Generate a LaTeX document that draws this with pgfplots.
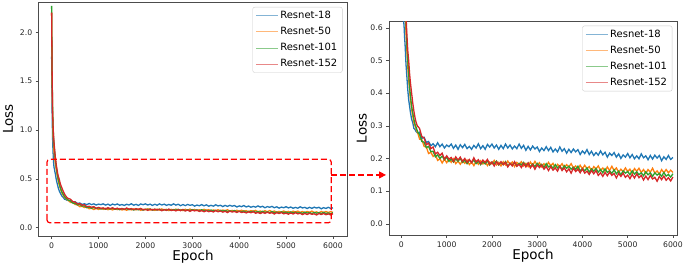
\documentclass[border=0pt]{standalone}
\usepackage{pgfplots}
\pgfplotsset{compat=1.18}
\usepackage{pgfplotstable}
\usepackage{fontspec}
\setmainfont{DejaVu Sans}
\usetikzlibrary{arrows.meta}
\definecolor{c18}{HTML}{1F77B4}
\definecolor{c50}{HTML}{FF7F0E}
\definecolor{c101}{HTML}{2CA02C}
\definecolor{c152}{HTML}{D62728}
\pgfplotstableread{
x b o g r
0 1.750 2.200 2.270 2.200
10 1.200 1.500 1.600 1.600
20 0.920 1.150 1.250 1.200
30 0.780 0.950 1.050 1.050
40 0.680 0.850 0.930 0.950
50 0.620 0.780 0.860 0.880
60 0.600 0.730 0.800 0.820
70 0.570 0.690 0.750 0.770
80 0.550 0.650 0.700 0.720
100 0.490 0.590 0.620 0.640
120 0.450 0.530 0.550 0.580
140 0.410 0.480 0.500 0.530
160 0.380 0.440 0.460 0.500
180 0.360 0.410 0.420 0.460
200 0.340 0.380 0.390 0.430
225 0.320 0.350 0.360 0.400
250 0.310 0.330 0.340 0.370
275 0.292 0.310 0.320 0.345
300 0.289 0.300 0.305 0.325
325 0.282 0.290 0.295 0.310
350 0.279 0.280 0.285 0.300
375 0.277 0.272 0.277 0.296
400 0.280 0.259 0.274 0.292
450 0.261 0.258 0.252 0.267
500 0.265 0.237 0.250 0.263
550 0.249 0.235 0.233 0.242
600 0.252 0.215 0.237 0.247
650 0.239 0.219 0.221 0.230
700 0.245 0.206 0.222 0.235
750 0.236 0.212 0.205 0.214
800 0.248 0.194 0.211 0.219
850 0.236 0.199 0.200 0.209
900 0.244 0.186 0.207 0.216
950 0.232 0.198 0.196 0.198
1000 0.241 0.187 0.204 0.208
1050 0.236 0.198 0.191 0.198
1100 0.244 0.188 0.198 0.203
1150 0.231 0.199 0.189 0.191
1200 0.241 0.184 0.199 0.205
1250 0.228 0.192 0.191 0.195
1300 0.242 0.182 0.200 0.204
1350 0.233 0.193 0.188 0.191
1400 0.243 0.185 0.195 0.200
1450 0.230 0.195 0.184 0.188
1500 0.237 0.181 0.195 0.197
1550 0.228 0.189 0.188 0.187
1600 0.240 0.178 0.195 0.202
1650 0.232 0.192 0.184 0.189
1700 0.245 0.182 0.192 0.196
1750 0.230 0.193 0.181 0.184
1800 0.239 0.183 0.190 0.195
1850 0.228 0.191 0.183 0.187
1900 0.243 0.178 0.193 0.197
1950 0.235 0.189 0.180 0.182
2000 0.244 0.183 0.189 0.189
2050 0.232 0.194 0.184 0.177
2100 0.241 0.180 0.192 0.190
2150 0.228 0.188 0.180 0.181
2200 0.240 0.177 0.188 0.190
2250 0.230 0.190 0.181 0.181
2300 0.244 0.180 0.190 0.188
2350 0.232 0.192 0.176 0.174
2400 0.241 0.182 0.185 0.185
2450 0.229 0.189 0.179 0.177
2500 0.238 0.175 0.188 0.190
2550 0.230 0.188 0.177 0.176
2600 0.244 0.181 0.185 0.182
2650 0.231 0.190 0.180 0.172
2700 0.240 0.177 0.188 0.185
2750 0.225 0.185 0.177 0.174
2800 0.237 0.175 0.186 0.186
2850 0.226 0.189 0.174 0.171
2900 0.238 0.178 0.183 0.181
2950 0.229 0.191 0.175 0.167
3000 0.235 0.179 0.185 0.180
3050 0.221 0.187 0.177 0.172
3100 0.232 0.174 0.182 0.180
3150 0.224 0.184 0.172 0.167
3200 0.236 0.175 0.184 0.175
3250 0.224 0.188 0.174 0.163
3300 0.234 0.178 0.178 0.175
3350 0.220 0.185 0.170 0.164
3400 0.229 0.170 0.181 0.171
3450 0.220 0.182 0.171 0.161
3500 0.235 0.175 0.177 0.176
3550 0.222 0.184 0.166 0.163
3600 0.230 0.171 0.178 0.171
3650 0.216 0.181 0.170 0.159
3700 0.228 0.174 0.176 0.168
3750 0.218 0.184 0.167 0.155
3800 0.229 0.171 0.173 0.170
3850 0.220 0.177 0.166 0.160
3900 0.227 0.166 0.176 0.167
3950 0.212 0.179 0.162 0.156
4000 0.223 0.168 0.169 0.168
4050 0.215 0.179 0.162 0.155
4100 0.227 0.169 0.171 0.161
4150 0.212 0.175 0.158 0.151
4200 0.222 0.162 0.168 0.163
4250 0.209 0.175 0.161 0.153
4300 0.218 0.168 0.169 0.163
4350 0.210 0.177 0.158 0.148
4400 0.223 0.163 0.166 0.156
4450 0.211 0.171 0.156 0.145
4500 0.219 0.161 0.168 0.157
4550 0.204 0.174 0.157 0.147
4600 0.216 0.163 0.162 0.158
4650 0.209 0.176 0.154 0.148
4700 0.218 0.163 0.165 0.154
4750 0.204 0.171 0.153 0.140
4800 0.214 0.158 0.161 0.154
4850 0.200 0.167 0.150 0.145
4900 0.211 0.159 0.162 0.155
4950 0.204 0.171 0.155 0.142
5000 0.215 0.160 0.160 0.149
5050 0.202 0.167 0.150 0.138
5100 0.212 0.154 0.162 0.151
5150 0.199 0.169 0.152 0.140
5200 0.208 0.161 0.159 0.153
5250 0.199 0.170 0.150 0.141
5300 0.214 0.157 0.156 0.148
5350 0.202 0.166 0.147 0.134
5400 0.208 0.154 0.159 0.146
5450 0.196 0.166 0.150 0.135
5500 0.209 0.158 0.156 0.148
5550 0.198 0.170 0.145 0.137
5600 0.210 0.155 0.156 0.142
5650 0.201 0.162 0.149 0.130
5700 0.209 0.152 0.154 0.145
5750 0.193 0.166 0.145 0.135
5800 0.205 0.156 0.157 0.146
5850 0.197 0.166 0.146 0.133
5900 0.209 0.156 0.151 0.141
5950 0.197 0.164 0.143 0.131
6000 0.203 0.157 0.153 0.143
}\loss
\pgfplotsset{
  panel/.style={
    scale only axis,
    anchor=south west,
    tick pos=left,
    tick align=outside,
    major tick length=2.8pt,
    axis line style={black!70},
    every tick/.style={black!70},
    no markers,
    /pgf/number format/assume math mode=true,
    /pgf/number format/set thousands separator={},
    ticklabel style={font=\fontsize{7.7}{9}\selectfont, text=black!85},
    label style={font=\fontsize{13.5}{15}\selectfont},
    xtick={0,1000,2000,3000,4000,5000,6000},
    xlabel={Epoch},
    ylabel={Loss},
    legend cell align=left,
    legend image code/.code={\draw[#1, opacity=0.55, line width=0.6pt] (0pt,0pt) -- (22pt,0pt);},
    legend style={font=\fontsize{10}{11}\selectfont, draw=black!20, rounded corners=2pt,
      row sep=3.2pt, inner xsep=3pt, inner ysep=2pt, anchor=north east},
    yticklabel style={/pgf/number format/fixed, /pgf/number format/fixed zerofill,
      /pgf/number format/precision=1},
  },
  ser/.style={line width=1.3pt},
}
\begin{document}
\begin{tikzpicture}
\useasboundingbox (0,0) rectangle (685pt,267pt);
\begin{axis}[panel,
  at={(38.5pt,31pt)}, width=309pt, height=234pt,
  xmin=-280, xmax=6310, ymin=-0.085, ymax=2.31,
  ytick={0,0.5,1,1.5,2},
  xlabel style={at={(rel axis cs:0.5,0)}, anchor=center, yshift=-21pt},
  ylabel style={at={(rel axis cs:0,0.5)}, anchor=center, yshift=30.5pt},
  legend style={at={(rel axis cs:1,1)}, xshift=-5pt, yshift=-5pt},
]
\addplot[ser, c18] table[x=x,y=b]{\loss};
\addlegendentry{Resnet-18}
\addplot[ser, c50] table[x=x,y=o]{\loss};
\addlegendentry{Resnet-50}
\addplot[ser, c101] table[x=x,y=g]{\loss};
\addlegendentry{Resnet-101}
\addplot[ser, c152] table[x=x,y=r]{\loss};
\addlegendentry{Resnet-152}
\draw[red, line width=1.2pt, dash pattern=on 6pt off 3pt, rounded corners=3pt]
  (axis cs:-100,0.05) rectangle (axis cs:5965,0.70);
\coordinate (as) at (axis cs:5965,0.54);
\end{axis}
\begin{axis}[panel,
  at={(389pt,32pt)}, width=288pt, height=213.3pt,
  xmin=-275, xmax=6090, ymin=-0.0346, ymax=0.619,
  ytick={0,0.1,0.2,0.3,0.4,0.5,0.6},
  xlabel style={at={(rel axis cs:0.5,0)}, anchor=center, yshift=-21pt},
  ylabel style={at={(rel axis cs:0,0.5)}, anchor=center, yshift=27.3pt},
  legend style={at={(rel axis cs:1,1)}, xshift=-4.7pt, yshift=-4pt},
]
\addplot[ser, c18] table[x=x,y=b]{\loss};
\addlegendentry{Resnet-18}
\addplot[ser, c50] table[x=x,y=o]{\loss};
\addlegendentry{Resnet-50}
\addplot[ser, c101] table[x=x,y=g]{\loss};
\addlegendentry{Resnet-101}
\addplot[ser, c152] table[x=x,y=r]{\loss};
\addlegendentry{Resnet-152}
\coordinate (ae) at (rel axis cs:0,0.5);
\end{axis}
\draw[red, line width=1.2pt, dash pattern=on 6pt off 3pt,
  -{Triangle[length=7pt,width=7pt]}] (as) -- ([xshift=-3pt]as -| ae);
\end{tikzpicture}
\end{document}
